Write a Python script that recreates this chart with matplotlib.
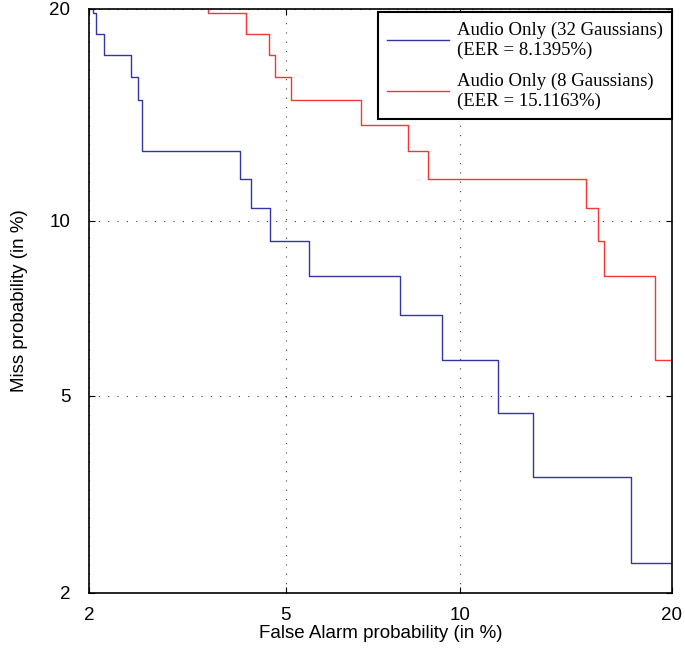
import math

import matplotlib
matplotlib.use("Agg")
import matplotlib.pyplot as plt
import numpy as np
from matplotlib.scale import FuncScale

# DET data: false alarm (%) where each step occurs, and miss counts out of 86 target trials
N_TARGET = 86
blue_fa = [2.044, 2.068, 2.156, 2.463, 2.548, 2.601, 4.10, 4.29, 4.68, 5.51,
           7.98, 9.35, 11.43, 12.90, 17.71, 20.5]
blue_miss = [18, 17, 16, 15, 14, 13, 11, 10, 9, 8, 7, 6, 5, 4, 3, 2]
red_fa = [3.54, 4.21, 4.65, 4.77, 5.12, 6.84, 8.23, 8.88, 15.36, 15.97, 16.28,
          19.01, 20.5]
red_miss = [18, 17, 16, 15, 14, 13, 12, 11, 10, 9, 8, 7, 5]

label_blue = "Audio Only (32 Gaussians)\n(EER = 8.1395%)"
label_red = "Audio Only (8 Gaussians)\n(EER = 15.1163%)"
ticks = [2, 5, 10, 20]
tick_labels = ["2", "5", "10", "20"]

# Acklam's rational approximation of the normal quantile
_A = [-3.969683028665376e+01, 2.209460984245205e+02, -2.759285104469687e+02,
      1.383577518672690e+02, -3.066479806614716e+01, 2.506628277459239e+00]
_B = [-5.447609879822406e+01, 1.615858368580409e+02, -1.556989798598866e+02,
      6.680131188771972e+01, -1.328068155288572e+01]
_C = [-7.784894002430293e-03, -3.223964580411365e-01, -2.400758277161838e+00,
      -2.549732539343734e+00, 4.374664141464968e+00, 2.938163982698783e+00]
_D = [7.784695709041462e-03, 3.224671290700398e-01, 2.445134137142996e+00,
      3.754408661907416e+00]


def ppf(p):
    p = np.clip(np.asarray(p, dtype=float), 1e-9, 1 - 1e-9)
    out = np.empty_like(p)
    plow = 0.02425
    lo = p < plow
    hi = p > 1 - plow
    mid = ~(lo | hi)
    q = np.sqrt(-2 * np.log(p[lo]))
    out[lo] = (((((_C[0]*q+_C[1])*q+_C[2])*q+_C[3])*q+_C[4])*q+_C[5]) / \
              ((((_D[0]*q+_D[1])*q+_D[2])*q+_D[3])*q+1)
    q = np.sqrt(-2 * np.log(1 - p[hi]))
    out[hi] = -(((((_C[0]*q+_C[1])*q+_C[2])*q+_C[3])*q+_C[4])*q+_C[5]) / \
               ((((_D[0]*q+_D[1])*q+_D[2])*q+_D[3])*q+1)
    q = p[mid] - 0.5
    r = q * q
    out[mid] = (((((_A[0]*r+_A[1])*r+_A[2])*r+_A[3])*r+_A[4])*r+_A[5])*q / \
               (((((_B[0]*r+_B[1])*r+_B[2])*r+_B[3])*r+_B[4])*r+1)
    return out


_erf = np.vectorize(math.erf)


def forward(pct):
    return ppf(np.asarray(pct, dtype=float) / 100.0)


def inverse(z):
    z = np.asarray(z, dtype=float)
    return 50.0 * (1 + _erf(z / math.sqrt(2)))


fig = plt.figure(figsize=(6.85, 6.54), dpi=100)
ax = fig.add_axes([0.130, 0.0933, 0.851, 0.893])

bm = np.array(blue_miss) / N_TARGET * 100
rm = np.array(red_miss) / N_TARGET * 100
ax.step(blue_fa, bm, where="pre", color="#3434a8", lw=1.0, label=label_blue)
ax.step(red_fa, rm, where="pre", color="#f83636", lw=1.0, label=label_red)

ax.set_xscale(FuncScale(ax.xaxis, (forward, inverse)))
ax.set_yscale(FuncScale(ax.yaxis, (forward, inverse)))
ax.set_xlim(2, 20)
ax.set_ylim(2, 20)
ax.set_xticks(ticks, tick_labels)
ax.set_yticks(ticks, tick_labels)
ax.minorticks_off()
ax.tick_params(direction="in", top=True, right=True, labelsize=13.5,
               length=4, width=0.8)
ax.tick_params(axis="x", pad=10)
ax.tick_params(axis="y", pad=13.5)
for lab in ax.get_xticklabels() + ax.get_yticklabels():
    lab.set_family("Liberation Sans")
ax.grid(True, linestyle=(0, (1, 7.4)), color="0.25", linewidth=0.8)
for s in ax.spines.values():
    s.set_linewidth(1.2)

ax.set_xlabel("False Alarm probability (in %)", fontsize=13.5,
              family="Liberation Sans", labelpad=1)
ax.set_ylabel("Miss probability (in %)", fontsize=13.5,
              family="Liberation Sans", labelpad=15)

leg = ax.legend(loc="upper right", bbox_to_anchor=(1.0, 1 - 3 / 584),
                borderaxespad=0, fancybox=False, framealpha=1,
                edgecolor="k", prop={"family": "Liberation Serif", "size": 13.5},
                handlelength=3.3, handletextpad=0.4, labelspacing=0.75,
                borderpad=0.5)
leg.get_frame().set_linewidth(1.5)

fig.savefig("out.png", dpi=100)
